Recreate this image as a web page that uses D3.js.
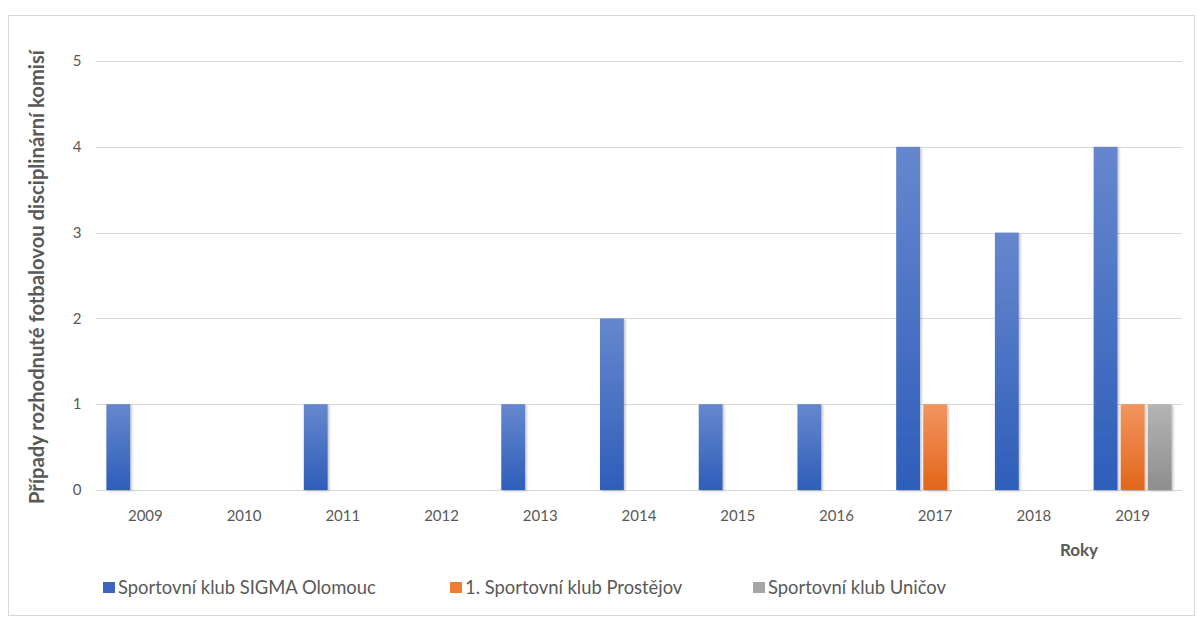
<!DOCTYPE html>
<html><head><meta charset="utf-8">
<script src="https://cdn.jsdelivr.net/npm/d3@7"></script>
<style>body{margin:0;background:#fff}svg{display:block}</style>
</head><body>
<svg id="c" width="1198" height="621"></svg>
<script>
const years = ["2009","2010","2011","2012","2013","2014","2015","2016","2017","2018","2019"];
const seriesNames = ["Sportovní klub SIGMA Olomouc","1. Sportovní klub Prostějov","Sportovní klub Uničov"];
const sigma = [1,0,1,0,1,2,1,1,4,3,4];
const prostejov = [0,0,0,0,0,0,0,0,1,0,1];
const unicov = [0,0,0,0,0,0,0,0,0,0,1];
const yTicks = [0,1,2,3,4,5];
const colors = [["#6687ce","#2e5eb9"],["#f29560","#e2661a"],["#b4b4b4","#8e8e8e"]];
const legendColors = ["#3a66c0","#ed7d31","#a5a5a5"];

const svg = d3.select("#c");
const font = "Lato, 'Open Sans', sans-serif";
svg.append("rect").attr("x",8.5).attr("y",15.5).attr("width",1186).attr("height",600)
  .attr("fill","#fff").attr("stroke","#d9d9d9");

const defs = svg.append("defs");
colors.forEach((c,i)=>{
  const g = defs.append("linearGradient").attr("id","g"+i).attr("x1",0).attr("y1",0).attr("x2",0).attr("y2",1);
  g.append("stop").attr("offset","0%").attr("stop-color",c[0]);
  g.append("stop").attr("offset","100%").attr("stop-color",c[1]);
});
const f = defs.append("filter").attr("id","sh").attr("x","-20%").attr("y","-5%").attr("width","150%").attr("height","115%");
f.append("feDropShadow").attr("dx",1.5).attr("dy",1).attr("stdDeviation",1).attr("flood-color","#000").attr("flood-opacity",0.25);

const L=96, R=1182, T=61, B=490;
const x = d3.scaleBand().domain(years).range([L,R]).paddingInner(0.21).paddingOuter(0.105);
const x1 = d3.scaleBand().domain([0,1,2]).range([0,x.bandwidth()]).paddingInner(0.12);
const y = d3.scaleLinear().domain([0,5]).range([B,T]);

// gridlines
svg.append("g").selectAll("line").data(yTicks).join("line")
  .attr("x1",L).attr("x2",R).attr("y1",d=>Math.round(y(d))+0.5).attr("y2",d=>Math.round(y(d))+0.5)
  .attr("stroke","#d9d9d9").attr("stroke-width",1);

// y tick labels
svg.append("g").selectAll("text").data(yTicks).join("text")
  .attr("x",77).attr("y",d=>y(d)).attr("dy","0.35em").attr("text-anchor","middle")
  .attr("font-family",font).attr("font-size",15).attr("fill","#595959").text(d=>d);

// x labels
svg.append("g").selectAll("text").data(years).join("text")
  .attr("x",d=>x(d)+x.bandwidth()/2).attr("y",521).attr("text-anchor","middle")
  .attr("font-family",font).attr("font-size",15).attr("fill","#595959").text(d=>d);

// bars
const all = [sigma,prostejov,unicov];
all.forEach((vals,si)=>{
  svg.append("g").selectAll("rect").data(vals.map((v,i)=>({v,yr:years[i]})).filter(d=>d.v>0)).join("rect")
    .attr("x",d=>x(d.yr)+x1(si)).attr("width",x1.bandwidth())
    .attr("y",d=>y(d.v)).attr("height",d=>y(0)-y(d.v))
    .attr("fill","url(#g"+si+")").attr("filter","url(#sh)");
});

// axis titles
svg.append("text").attr("transform",`translate(44,277) rotate(-90)`).attr("text-anchor","middle")
  .attr("font-family",font).attr("font-size",20.2).attr("font-weight","bold").attr("fill","#595959")
  .text("Případy rozhodnuté fotbalovou disciplinární komisí");
svg.append("text").attr("x",1079).attr("y",556).attr("text-anchor","middle")
  .attr("font-family",font).attr("font-size",17).attr("font-weight","bold").attr("fill","#595959").text("Roky");

// legend
const legX = [103,450,753];
const lg = svg.append("g").selectAll("g").data(seriesNames).join("g")
  .attr("transform",(d,i)=>`translate(${legX[i]},582)`);
lg.append("rect").attr("width",12).attr("height",11).attr("y",0).attr("fill",(d,i)=>legendColors[i]);
lg.append("text").attr("x",15).attr("y",5.5).attr("dy","0.35em").attr("font-family",font).attr("font-size",18.4)
  .attr("fill","#595959").text(d=>d);
</script>
</body></html>
